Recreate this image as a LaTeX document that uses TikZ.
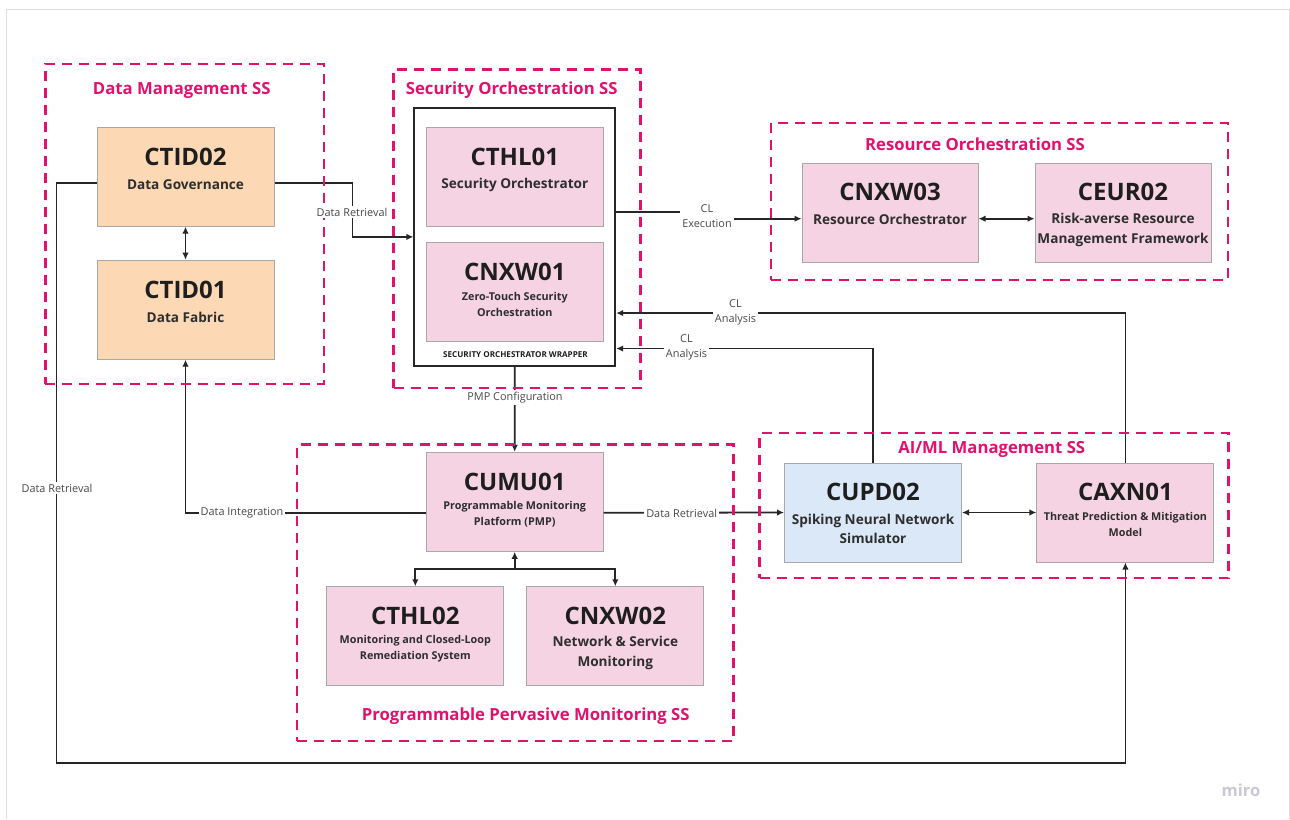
\documentclass[tikz,border=0pt]{standalone}
\usepackage{fontspec}
\setmainfont{Open Sans}
\usetikzlibrary{arrows.meta,calc}

\definecolor{peach}{HTML}{FDD8B4}
\definecolor{pinkbox}{HTML}{F5D3E3}
\definecolor{bluebox}{HTML}{DAE8F8}
\definecolor{boxedge}{HTML}{A8A8A8}
\definecolor{ssred}{HTML}{E0126E}
\definecolor{ink}{HTML}{1E1E1E}
\definecolor{ink2}{HTML}{2E2E2E}
\definecolor{wirec}{HTML}{262626}
\definecolor{lbl}{HTML}{4A4A4A}
\definecolor{pagegray}{HTML}{DEDEDE}
\definecolor{brand}{HTML}{C9C9D6}

\tikzset{
  box/.style={draw=boxedge, line width=1pt, inner sep=0pt,
              minimum width=177pt, minimum height=99pt},
  ttl/.style={font=\fontsize{24}{28}\selectfont\bfseries, text=ink, inner sep=0pt},
  subL/.style={font=\fontsize{13.6}{19.5}\selectfont\bfseries, text=ink2,
               align=center, inner sep=0pt},
  subS/.style={font=\fontsize{10.8}{16}\selectfont\bfseries, text=ink2,
               align=center, inner sep=0pt},
  ssframe/.style={draw=ssred, line width=2.4pt, dash pattern=on 10pt off 7pt,
                  inner sep=0pt, anchor=north west},
  sstitle/.style={font=\fontsize{16.7}{19}\selectfont\bfseries, text=ssred, inner sep=0pt},
  wire/.style={draw=wirec, line width=1.8pt},
  arr/.style={wire, -{Latex[length=7pt,width=6.5pt]}},
  darr/.style={wire, {Latex[length=7pt,width=6.5pt]}-{Latex[length=7pt,width=6.5pt]}},
  elabel/.style={font=\fontsize{10.9}{15}\selectfont, text=lbl, fill=white,
                 inner sep=2pt, align=center},
}

\begin{document}
\begin{tikzpicture}[x=1pt,y=-1pt]
\useasboundingbox (0,0) rectangle (1290,819);
\fill[white] (0,0) rectangle (1290,819);
% board edge
\draw[pagegray, line width=1pt] (6,819) -- (6,9) -- (1289,9) -- (1289,819);

% ---------- components ----------
% Data Management
\node[box, fill=peach] (ctid02) at (185.5,176.7) {};
\node[ttl] (ctid02t) at (185.5,157) {CTID02};
\node[subL] (ctid02s) at (185.5,184.5) {Data Governance};

\node[box, fill=peach] (ctid01) at (185.5,309.7) {};
\node[ttl] (ctid01t) at (185.5,290) {CTID01};
\node[subL] (ctid01s) at (185.5,317.5) {Data Fabric};

% Security Orchestration
\node[draw=wirec, line width=1.8pt, inner sep=0pt,
      minimum width=201pt, minimum height=258.5pt] (wrapper) at (514.8,236.9) {};
\node[box, fill=pinkbox] (cthl01) at (514.8,176.7) {};
\node[ttl] (cthl01t) at (514.8,157) {CTHL01};
\node[subL] (cthl01s) at (514.8,184.5) {Security Orchestrator};

\node[box, fill=pinkbox] (cnxw01) at (514.8,292.2) {};
\node[ttl] (cnxw01t) at (514.8,271.5) {CNXW01};
\node[subS] (cnxw01s) at (514.8,304) {Zero-Touch Security\\Orchestration};
\node[font=\fontsize{8.1}{10}\selectfont\bfseries, text=ink, inner sep=0pt]
      (wrapt) at (515.5,354.3) {SECURITY ORCHESTRATOR WRAPPER};

% Resource Orchestration
\node[box, fill=pinkbox, minimum width=176pt] (cnxw03) at (890,212.7) {};
\node[ttl] (cnxw03t) at (890,191.5) {CNXW03};
\node[subL] (cnxw03s) at (890,219.5) {Resource Orchestrator};

\node[box, fill=pinkbox, minimum width=176pt] (ceur02) at (1123,212.7) {};
\node[ttl] (ceur02t) at (1123,191.5) {CEUR02};
\node[subL] (ceur02s) at (1123,230) {Risk-averse Resource\\Management Framework};

% Programmable Pervasive Monitoring
\node[box, fill=pinkbox] (cumu01) at (514.7,501.8) {};
\node[ttl] (cumu01t) at (514.7,481.5) {CUMU01};
\node[subS] (cumu01s) at (514.7,514) {Programmable Monitoring\\Platform (PMP)};

\node[box, fill=pinkbox] (cthl02) at (415.3,636.3) {};
\node[ttl] (cthl02t) at (415.3,615.5) {CTHL02};
\node[subS] (cthl02s) at (415.3,648.5) {Monitoring and Closed-Loop\\Remediation System};

\node[box, fill=pinkbox] (cnxw02) at (615.3,636.3) {};
\node[ttl] (cnxw02t) at (615.3,615.5) {CNXW02};
\node[subL] (cnxw02s) at (615.3,653) {Network \& Service\\Monitoring};

% AI/ML Management
\node[box, fill=bluebox] (cupd02) at (873,512.5) {};
\node[ttl] (cupd02t) at (873,491.7) {CUPD02};
\node[subL] (cupd02s) at (873,528.7) {Spiking Neural Network\\Simulator};

\node[box, fill=pinkbox] (caxn01) at (1125.4,512.5) {};
\node[ttl] (caxn01t) at (1125.4,491.7) {CAXN01};
\node[subS] (caxn01s) at (1125.4,524.2) {Threat Prediction \& Mitigation\\Model};

% ---------- connectors ----------
\draw[darr] (ctid02.south) -- (ctid01.north);
\draw[darr] ([yshift=-6pt]cnxw03.east) -- ([yshift=-6pt]ceur02.west);
\draw[darr] (cupd02.east) -- (caxn01.west);

% data retrieval into the orchestrator wrapper
\draw[arr] ([yshift=-6pt]ctid02.east) -- ++(78,0) |- (wrapper.west);
% data retrieval round the bottom to the threat model
\draw[arr] ([yshift=-6pt]ctid02.west) -- ++(-40,0) -- ++(0,580.5) -| (caxn01.south);
% closed-loop execution
\draw[arr] ($(wrapper.north east)+(0,105.5)$) -- ++(93,0) |- ([yshift=-6pt]cnxw03.west);
% closed-loop analysis feeds
\draw[arr] (caxn01.north) |- ($(wrapper.south east)+(0,-54)$);
\draw[arr] (cupd02.north) |- ($(wrapper.south east)+(0,-18.5)$);
% PMP configuration
\draw[arr] (wrapper.south) -- (cumu01.north);
% data integration back to the fabric
\draw[arr] ([yshift=-11pt]cumu01.west) -| (ctid01.south);
% data retrieval to the simulator
\draw[arr] ([yshift=-11pt]cumu01.east) -- (cupd02.west);
% monitoring tree
\coordinate (tj) at ($(cumu01.south)+(0,17.5)$);
\draw[arr] (tj) -- (cumu01.south);
\draw[arr] (tj) -| (cthl02.north);
\draw[arr] (tj) -| (cnxw02.north);

% ---------- subsystem frames ----------
\node[ssframe, minimum width=278.5pt, minimum height=320pt] (ssdm) at (44.2,62.7) {};
\node[sstitle] (ssdmt) at (181.7,90) {Data Management SS};

\node[ssframe, minimum width=247pt, minimum height=318.5pt] (sssec) at (392.3,68.2) {};
\node[sstitle] (sssect) at (511.7,90) {Security Orchestration SS};

\node[ssframe, minimum width=457pt, minimum height=157pt] (ssres) at (770,122) {};
\node[sstitle] (ssrest) at (975,144) {Resource Orchestration SS};

\node[ssframe, minimum width=436.5pt, minimum height=296.7pt] (ssppm) at (295.8,443.3) {};
\node[sstitle] (ssppmt) at (525.7,715.7) {Programmable Pervasive Monitoring SS};

\node[ssframe, minimum width=469pt, minimum height=145pt] (ssai) at (758.3,431.7) {};
\node[sstitle] (ssait) at (991.7,449.3) {AI/ML Management SS};

% ---------- connector labels ----------
\node[elabel] (l1) at (352,212) {Data Retrieval};
\node[elabel] (l2) at (57,488) {Data Retrieval};
\node[elabel] (l3) at (707,216) {CL\\Execution};
\node[elabel] (l4) at (735.5,312) {CL\\Analysis};
\node[elabel] (l5) at (686.5,347.5) {CL\\Analysis};
\node[elabel] (l6) at (515,397.5) {PMP Configuration};
\node[elabel] (l7) at (242,513) {Data Integration};
\node[elabel] (l8) at (681.7,513) {Data Retrieval};

% brand mark
\node[font=\fontsize{16.5}{18}\selectfont\bfseries, text=brand, inner sep=0pt]
      (brandmark) at (1241,790) {miro};
\end{tikzpicture}
\end{document}
